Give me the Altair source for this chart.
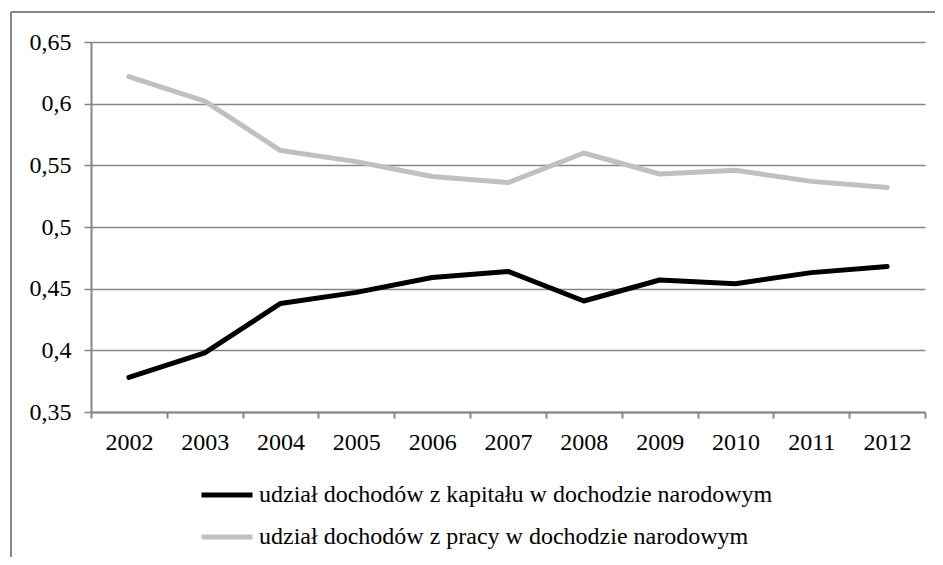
import altair as alt
import pandas as pd

years = ["2002", "2003", "2004", "2005", "2006", "2007", "2008", "2009", "2010", "2011", "2012"]
kapital = [0.378, 0.398, 0.438, 0.447, 0.459, 0.464, 0.440, 0.457, 0.454, 0.463, 0.468]
praca = [0.622, 0.602, 0.562, 0.553, 0.541, 0.536, 0.560, 0.543, 0.546, 0.537, 0.532]
series_names = [
    "udział dochodów z kapitału w dochodzie narodowym",
    "udział dochodów z pracy w dochodzie narodowym",
]
y_ticks = [0.35, 0.40, 0.45, 0.50, 0.55, 0.60, 0.65]

rows = []
for name, vals in zip(series_names, [kapital, praca]):
    for yr, v in zip(years, vals):
        rows.append({"rok": yr, "wartosc": v, "seria": name})
df = pd.DataFrame(rows)

FONT = "Liberation Serif"
GRID = "#868686"

lines = alt.Chart(df).mark_line(strokeWidth=5, strokeCap="round", strokeJoin="round").encode(
    x=alt.X(
        "rok:O",
        sort=years,
        bandPosition=0.5,
        scale=alt.Scale(type="band", paddingInner=0, paddingOuter=0),
        axis=alt.Axis(
            title=None,
            labelAngle=0,
            tickBand="extent",
            grid=False,
            domainColor=GRID,
            domainWidth=2,
            tickColor=GRID,
            tickWidth=2,
            tickSize=6,
            labelPadding=12,
            labelFont=FONT,
            labelFontSize=24,
            labelColor="#000000",
        ),
    ),
    y=alt.Y(
        "wartosc:Q",
        scale=alt.Scale(domain=[0.35, 0.65], nice=False, zero=False),
        axis=alt.Axis(
            title=None,
            values=y_ticks,
            labelExpr="replace(format(datum.value, '.2~f'), '.', ',')",
            grid=True,
            gridColor=GRID,
            gridWidth=1.5,
            domainColor=GRID,
            domainWidth=2,
            tickColor=GRID,
            tickWidth=1.5,
            tickSize=7,
            labelPadding=13,
            labelFont=FONT,
            labelFontSize=24,
            labelColor="#000000",
        ),
    ),
    color=alt.Color(
        "seria:N",
        scale=alt.Scale(domain=series_names, range=["#000000", "#C0C0C0"]),
        legend=alt.Legend(
            title=None,
            orient="none",
            legendX=108,
            legendY=425,
            padding=0,
            symbolType="stroke",
            symbolSize=2600,
            symbolStrokeWidth=5,
            labelFont=FONT,
            labelFontSize=24,
            labelColor="#000000",
            labelOffset=4,
            rowPadding=2,
            labelLimit=800,
        ),
    ),
)

frame_top = alt.Chart(df).mark_rule(color=GRID, strokeWidth=1.5).encode(
    x=alt.value(-80), x2=alt.value(1000), y=alt.value(-30)
)
frame_left = alt.Chart(df).mark_rule(color=GRID, strokeWidth=1.5).encode(
    x=alt.value(-80), y=alt.value(-30), y2=alt.value(700)
)

chart = alt.layer(frame_top, frame_left, lines).properties(
    width=834,
    height=370,
    autosize=alt.AutoSizeParams(type="none"),
    padding={"left": 83, "top": 34, "right": 10, "bottom": 145},
    background="#ffffff",
).configure_view(stroke=None)

chart.save("out.html", embed_options={"renderer": "svg", "actions": False})
